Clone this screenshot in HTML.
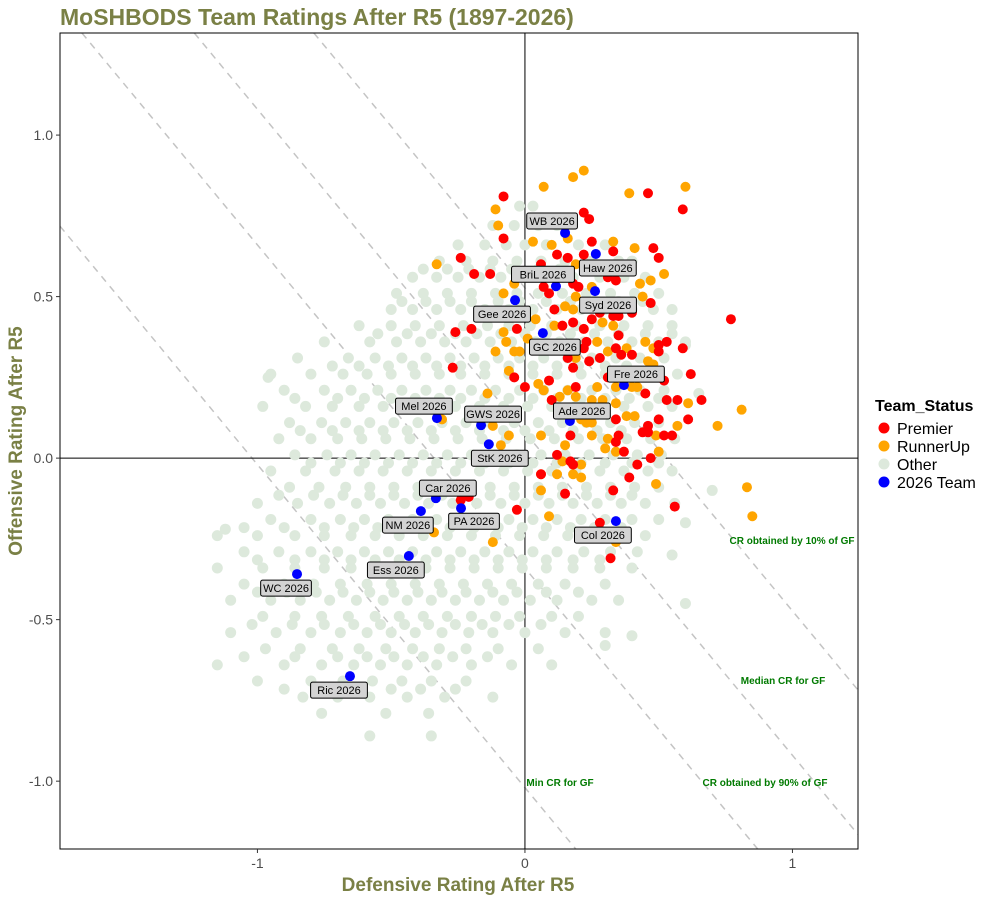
<!DOCTYPE html>
<html><head><meta charset="utf-8"><style>
html,body{margin:0;padding:0;background:#fff;overflow:hidden;width:1000px;height:900px;}
svg{display:block;}
svg text{font-family:"Liberation Sans",Arial,sans-serif;}
</style></head><body>
<svg id="chart" width="1000" height="900" viewBox="0 0 1000 900" xmlns="http://www.w3.org/2000/svg">
<defs><clipPath id="pc"><rect x="60" y="33" width="798" height="816"/></clipPath></defs>
<rect x="0" y="0" width="1000" height="900" fill="#fff"/>
<text x="60" y="25" font-size="23" font-weight="bold" fill="#7a8045">MoSHBODS Team Ratings After R5 (1897-2026)</text>
<g id="lines" clip-path="url(#pc)"></g>
<g id="pts" clip-path="url(#pc)"></g>
<g id="annot"></g>
<rect x="60" y="33" width="798" height="816" fill="none" stroke="#000" stroke-width="1"/>
<g id="axes"></g>
<text x="458" y="891" font-size="19" font-weight="bold" fill="#7a8045" text-anchor="middle">Defensive Rating After R5</text>
<text transform="translate(22,441) rotate(-90)" font-size="19" font-weight="bold" fill="#7a8045" text-anchor="middle">Offensive Rating After R5</text>
<g>
<text x="875" y="411" font-size="16" font-weight="bold" fill="#000">Team_Status</text>
<circle cx="884" cy="428" r="5.5" fill="#ff0000"/>
<text x="897" y="434" font-size="16">Premier</text>
<circle cx="884" cy="446" r="5.5" fill="#ffa500"/>
<text x="897" y="452" font-size="16">RunnerUp</text>
<circle cx="884" cy="464" r="5.5" fill="#dde9dc"/>
<text x="897" y="470" font-size="16">Other</text>
<circle cx="884" cy="482" r="5.5" fill="#0000ff"/>
<text x="897" y="488" font-size="16">2026 Team</text>
</g>
</svg>
<script>
const xDomain=[-1.738,1.245], yDomain=[-1.21,1.316];
const xTicks=[-1,0,1], xTickLabels=["-1","0","1"];
const yTicks=[1,0.5,0,-0.5,-1], yTickLabels=["1.0","0.5","0.0","-0.5","-1.0"];
const crValues=[-1.02,-0.34,0.08,0.527];
const crLabels=["Min CR for GF","CR obtained by 90% of GF","Median CR for GF","CR obtained by 10% of GF"];
const teamNames=["WB","Haw","BriL","Syd","Gee","GC","Fre","Ade","Mel","GWS","StK","Car","PA","NM","Ess","Col","WC","Ric"];
const teamDef=[0.15,0.265,0.116,0.262,-0.037,0.067,0.37,0.168,-0.329,-0.164,-0.135,-0.333,-0.239,-0.389,-0.434,0.34,-0.852,-0.654];
const teamOff=[0.697,0.632,0.532,0.517,0.489,0.387,0.226,0.115,0.124,0.102,0.043,-0.124,-0.155,-0.164,-0.303,-0.195,-0.359,-0.675];
const premier=[[-0.08,0.81],[0.46,0.82],[0.59,0.77],[0.22,0.76],[0.24,0.74],[-0.08,0.68],[0.25,0.67],[0.33,0.64],[0.48,0.65],[0.50,0.62],[-0.24,0.62],[0.12,0.63],[0.16,0.62],[0.22,0.63],[-0.19,0.57],[-0.13,0.57],[0.06,0.60],[0.31,0.56],[0.34,0.55],[0.07,0.53],[0.09,0.51],[0.18,0.54],[0.20,0.53],[0.47,0.48],[0.11,0.46],[0.14,0.41],[0.18,0.42],[0.22,0.40],[0.25,0.43],[0.28,0.45],[0.40,0.45],[0.33,0.44],[0.35,0.44],[0.35,0.38],[-0.26,0.39],[-0.20,0.40],[-0.03,0.40],[0.23,0.36],[0.22,0.34],[0.34,0.34],[0.50,0.35],[0.53,0.36],[0.59,0.34],[0.50,0.33],[0.16,0.31],[0.18,0.28],[0.24,0.30],[0.28,0.31],[0.36,0.32],[0.40,0.32],[-0.27,0.28],[-0.04,0.25],[0.00,0.22],[0.09,0.24],[0.19,0.22],[0.31,0.25],[0.52,0.24],[0.62,0.26],[0.45,0.20],[0.10,0.18],[0.53,0.18],[0.57,0.18],[0.34,0.12],[0.50,0.12],[0.61,0.12],[0.17,0.07],[0.35,0.07],[0.34,0.05],[0.46,0.10],[0.46,0.08],[0.44,0.08],[0.52,0.07],[0.55,0.07],[0.37,0.02],[0.12,0.01],[0.17,-0.01],[0.47,0.00],[0.42,-0.02],[0.39,-0.06],[0.77,0.43],[-0.21,-0.12],[-0.24,-0.13],[-0.03,-0.16],[0.06,-0.05],[0.15,-0.11],[0.18,-0.02],[0.33,-0.10],[0.32,-0.31],[0.28,-0.20],[0.56,-0.15],[0.66,0.18]];
const runnerUp=[[0.18,0.87],[0.22,0.89],[0.07,0.84],[0.39,0.82],[0.60,0.84],[-0.11,0.77],[-0.10,0.72],[0.03,0.67],[0.10,0.66],[0.16,0.68],[0.33,0.67],[0.41,0.65],[-0.33,0.60],[-0.04,0.54],[-0.08,0.51],[0.19,0.60],[0.52,0.57],[0.47,0.55],[0.43,0.54],[0.44,0.50],[0.25,0.53],[0.19,0.50],[0.15,0.47],[0.18,0.46],[0.11,0.41],[0.29,0.42],[0.33,0.41],[0.04,0.43],[-0.08,0.39],[-0.07,0.36],[-0.11,0.33],[-0.04,0.33],[-0.02,0.33],[0.01,0.37],[0.27,0.36],[0.38,0.34],[0.45,0.36],[0.48,0.34],[0.31,0.33],[0.19,0.31],[0.46,0.30],[0.48,0.29],[-0.06,0.27],[-0.14,0.20],[0.05,0.23],[0.07,0.21],[0.16,0.21],[0.27,0.22],[0.34,0.22],[0.40,0.22],[0.42,0.22],[0.13,0.19],[0.19,0.19],[0.25,0.18],[0.29,0.18],[0.34,0.17],[0.38,0.13],[0.41,0.13],[0.61,0.17],[0.21,0.12],[0.23,0.11],[0.25,0.11],[0.25,0.07],[-0.06,0.07],[-0.12,0.10],[-0.09,0.04],[0.06,0.07],[0.15,0.04],[0.30,0.03],[0.31,0.06],[0.34,0.02],[0.49,0.07],[0.57,0.10],[0.72,0.10],[0.50,0.02],[0.14,-0.01],[0.21,-0.02],[0.12,-0.05],[0.06,-0.05],[0.18,-0.05],[-0.02,0.00],[-0.31,0.12],[0.81,0.15],[0.83,-0.09],[0.85,-0.18],[0.06,-0.10],[0.21,-0.06],[-0.34,-0.23],[-0.12,-0.26],[0.49,-0.08],[0.09,-0.18],[0.34,-0.26]];
const otherRows=[
[0.78,-0.02,0.03],
[0.72,-0.12,-0.04,0.05,0.12],
[0.66,-0.25,-0.15,-0.07,0.0,0.08,0.2,0.3],
[0.61,-0.32,-0.22,-0.12,-0.03,0.06,0.15,0.25,0.35,0.4],
[0.56,-0.42,-0.33,-0.25,-0.17,-0.09,0.0,0.09,0.18,0.28,0.37,0.45],
[0.51,-0.48,-0.38,-0.29,-0.2,-0.11,-0.03,0.05,0.14,0.23,0.32,0.41,0.5],
[0.46,-0.5,-0.42,-0.33,-0.24,-0.15,-0.06,0.03,0.12,0.21,0.3,0.4,0.48,0.55],
[0.41,-0.62,-0.5,-0.41,-0.32,-0.23,-0.14,-0.06,0.02,0.1,0.19,0.28,0.37,0.46,0.55],
[0.36,-0.75,-0.58,-0.48,-0.39,-0.3,-0.22,-0.13,-0.05,0.04,0.13,0.22,0.31,0.4,0.5,0.6],
[0.31,-0.85,-0.66,-0.56,-0.46,-0.37,-0.28,-0.19,-0.1,-0.02,0.07,0.16,0.25,0.34,0.43,0.52],
[0.26,-0.95,-0.8,-0.68,-0.59,-0.5,-0.41,-0.32,-0.24,-0.15,-0.06,0.03,0.12,0.21,0.3,0.39,0.48,0.57],
[0.21,-0.9,-0.75,-0.65,-0.55,-0.46,-0.37,-0.28,-0.2,-0.11,-0.02,0.07,0.16,0.25,0.34,0.43,0.52],
[0.16,-0.98,-0.82,-0.72,-0.62,-0.53,-0.44,-0.35,-0.26,-0.17,-0.08,0.01,0.1,0.19,0.28,0.37,0.46,0.55],
[0.11,-0.88,-0.76,-0.67,-0.58,-0.49,-0.4,-0.31,-0.22,-0.13,-0.04,0.05,0.14,0.23,0.32,0.41,0.5],
[0.06,-0.92,-0.8,-0.7,-0.61,-0.52,-0.43,-0.34,-0.25,-0.16,-0.07,0.02,0.11,0.2,0.29,0.38,0.47,0.56],
[0.01,-0.86,-0.74,-0.65,-0.56,-0.47,-0.38,-0.29,-0.2,-0.11,-0.03,0.06,0.15,0.24,0.33,0.42,0.51],
[-0.04,-0.95,-0.82,-0.71,-0.62,-0.53,-0.44,-0.35,-0.26,-0.17,-0.08,0.01,0.1,0.19,0.28,0.37,0.46,0.55],
[-0.09,-0.88,-0.77,-0.67,-0.58,-0.49,-0.4,-0.31,-0.22,-0.13,-0.04,0.05,0.14,0.23,0.32,0.41,0.5],
[-0.14,-1.0,-0.85,-0.73,-0.63,-0.54,-0.45,-0.36,-0.27,-0.18,-0.09,0.0,0.09,0.18,0.27,0.36,0.45,0.56],
[-0.19,-0.95,-0.8,-0.69,-0.6,-0.51,-0.42,-0.33,-0.24,-0.15,-0.06,0.03,0.12,0.21,0.3,0.4,0.5],
[-0.24,-1.15,-1.0,-0.86,-0.75,-0.65,-0.56,-0.47,-0.38,-0.29,-0.2,-0.11,-0.02,0.07,0.16,0.25,0.35,0.45],
[-0.29,-1.05,-0.92,-0.8,-0.7,-0.6,-0.51,-0.42,-0.33,-0.24,-0.15,-0.06,0.03,0.12,0.22,0.32,0.42],
[-0.34,-1.15,-0.98,-0.86,-0.75,-0.65,-0.55,-0.46,-0.37,-0.28,-0.19,-0.1,-0.01,0.08,0.18,0.28,0.4],
[-0.39,-1.05,-0.9,-0.79,-0.69,-0.59,-0.5,-0.41,-0.32,-0.23,-0.14,-0.05,0.05,0.15,0.3],
[-0.44,-1.1,-0.95,-0.84,-0.73,-0.63,-0.53,-0.44,-0.35,-0.26,-0.17,-0.08,0.02,0.12,0.25,0.35],
[-0.49,-0.98,-0.86,-0.76,-0.66,-0.56,-0.47,-0.38,-0.29,-0.2,-0.11,-0.02,0.1,0.2],
[-0.54,-1.1,-0.93,-0.8,-0.69,-0.59,-0.5,-0.41,-0.31,-0.21,-0.12,0.0,0.15,0.3],
[-0.59,-0.97,-0.84,-0.72,-0.62,-0.52,-0.42,-0.32,-0.22,-0.1,0.05],
[-0.64,-1.15,-0.9,-0.76,-0.64,-0.54,-0.44,-0.33,-0.2,-0.05,0.1],
[-0.69,-1.0,-0.8,-0.68,-0.57,-0.46,-0.35,-0.22],
[-0.74,-0.83,-0.7,-0.58,-0.44,-0.3,-0.12],
[-0.79,-0.76,-0.52,-0.36],
[-0.86,-0.58,-0.35]];
const otherRowsB=[
[0.585,-0.38,-0.29,-0.21,-0.13,-0.05,0.05,0.13,0.23,0.32],
[0.485,-0.46,-0.37,-0.28,-0.2,-0.1,-0.02,0.08,0.17,0.26,0.35,0.44],
[0.385,-0.55,-0.44,-0.35,-0.26,-0.18,-0.09,0.0,0.08,0.17,0.26,0.35,0.45,0.55],
[0.285,-0.72,-0.62,-0.51,-0.42,-0.33,-0.24,-0.15,-0.06,0.03,0.12,0.2,0.3,0.38,0.47],
[0.185,-0.86,-0.7,-0.6,-0.5,-0.41,-0.32,-0.24,-0.15,-0.06,0.03,0.12,0.21,0.3,0.39,0.5],
[0.085,-0.84,-0.72,-0.62,-0.53,-0.44,-0.35,-0.26,-0.17,-0.08,0.0,0.09,0.18,0.27,0.36,0.45],
[-0.015,-0.8,-0.69,-0.6,-0.51,-0.42,-0.33,-0.24,-0.15,-0.06,0.03,0.12,0.21,0.3,0.4,0.5],
[-0.115,-0.92,-0.79,-0.68,-0.58,-0.49,-0.4,-0.31,-0.22,-0.13,-0.04,0.05,0.14,0.23,0.32,0.4],
[-0.215,-1.05,-0.9,-0.75,-0.64,-0.55,-0.46,-0.37,-0.28,-0.19,-0.1,-0.01,0.08,0.17,0.26,0.36],
[-0.315,-1.0,-0.86,-0.75,-0.65,-0.56,-0.47,-0.37,-0.28,-0.19,-0.1,-0.01,0.08,0.18,0.28],
[-0.415,-1.0,-0.89,-0.78,-0.68,-0.58,-0.49,-0.4,-0.31,-0.22,-0.12,-0.03,0.08,0.2],
[-0.515,-1.02,-0.87,-0.75,-0.64,-0.54,-0.45,-0.36,-0.26,-0.16,-0.06,0.06],
[-0.615,-1.05,-0.86,-0.7,-0.59,-0.49,-0.38,-0.27,-0.14],
[-0.715,-0.9,-0.74,-0.62,-0.5,-0.39,-0.26]];
const otherExtra=[[0.6,0.35],[0.65,0.2],[0.7,-0.1],[0.6,-0.2],[0.55,-0.3],[0.6,-0.45],[0.3,-0.58],[0.4,-0.55],[-0.96,0.25],[-1.12,-0.22]];

const NS="http://www.w3.org/2000/svg";
const X=v=>60+(v-xDomain[0])/(xDomain[1]-xDomain[0])*798;
const Y=v=>849-(v-yDomain[0])/(yDomain[1]-yDomain[0])*816;
function mk(tag,attrs,parent){const e=document.createElementNS(NS,tag);for(const k in attrs)e.setAttribute(k,attrs[k]);parent.appendChild(e);return e;}
const lines=document.getElementById('lines'),pts=document.getElementById('pts'),annot=document.getElementById('annot'),axes=document.getElementById('axes');
crValues.forEach((c,i)=>{
  // clip line x+y=c to the panel domain
  const xa=Math.max(xDomain[0],c-yDomain[1]);
  const xb=Math.min(xDomain[1],c-yDomain[0]);
  if(xb<=xa)return;
  const l=mk('line',{x1:X(xa),y1:Y(c-xa),x2:X(xb),y2:Y(c-xb),stroke:'#c4c4c4','stroke-width':1.5,'stroke-dasharray':'7,6'},lines);
  
  
});
const zx=mk('line',{x1:X(0),y1:33,x2:X(0),y2:849,stroke:'#000','stroke-width':1},lines);


const zy=mk('line',{x1:60,y1:Y(0),x2:858,y2:Y(0),stroke:'#000','stroke-width':1},lines);


function drawOther(x,y){
  const c=mk('circle',{cx:X(x),cy:Y(y),r:5.5,fill:'#dde9dc'},pts);
  
  
}
otherRows.forEach(r=>{for(let j=1;j<r.length;j++)drawOther(r[j],r[0]);});
otherRowsB.forEach(r=>{for(let j=1;j<r.length;j++)drawOther(r[j],r[0]);});
otherExtra.forEach(p=>drawOther(p[0],p[1]));
runnerUp.forEach(p=>{
  const c=mk('circle',{cx:X(p[0]),cy:Y(p[1]),r:5,fill:'#ffa500'},pts);
  
  
});
premier.forEach(p=>{
  const c=mk('circle',{cx:X(p[0]),cy:Y(p[1]),r:5,fill:'#ff0000'},pts);
  
  
});
const lblOff={WB:[-13,-12],Haw:[12,14],BriL:[-13,-12],Syd:[13,14],Gee:[-13,14],GC:[12,14],Fre:[12,-11],Ade:[12,-10],Mel:[-13,-12],GWS:[12,-11],StK:[11,14],Car:[12,-10],PA:[13,13],NM:[-13,14],Ess:[-13,14],Col:[-13,14],WC:[-11,14],Ric:[-11,14]};
teamNames.forEach((n,i)=>{
  const c=mk('circle',{cx:X(teamDef[i]),cy:Y(teamOff[i]),r:5,fill:'#0000ff'},pts);
  
  
});
teamNames.forEach((n,i)=>{
  const cx=X(teamDef[i]),cy=Y(teamOff[i]);
  const o=lblOff[n]||[0,-12];
  const txt=n+' 2026';
  const w=txt.length*6.1+8;
  const lx=cx+o[0],ly=cy+o[1];
  const g=mk('g',{},annot);
  
  
  mk('rect',{x:lx-w/2,y:ly-8,width:w,height:16,rx:2,fill:'#d3d3d3',stroke:'#000','stroke-width':1},g);
  const t=mk('text',{x:lx,y:ly+4,'font-size':11,'text-anchor':'middle',fill:'#000'},g);
  t.textContent=txt;
});
const crPos=[[560,786],[765,786],[783,684],[792,544]];
crLabels.forEach((s,i)=>{
  const t=mk('text',{x:crPos[i][0],y:crPos[i][1],'font-size':10,'font-weight':'bold','text-anchor':'middle',fill:'#007a00'},annot);
  
  
  t.textContent=s;
});
xTicks.forEach((v,i)=>{
  mk('line',{x1:X(v),y1:849,x2:X(v),y2:853,stroke:'#333'},axes);
  const t=mk('text',{x:X(v),y:868,'font-size':14,'text-anchor':'middle',fill:'#4d4d4d'},axes);
  
  
  t.textContent=xTickLabels[i];
});
yTicks.forEach((v,i)=>{
  mk('line',{x1:56,y1:Y(v),x2:60,y2:Y(v),stroke:'#333'},axes);
  const t=mk('text',{x:53,y:Y(v)+5,'font-size':14,'text-anchor':'end',fill:'#4d4d4d'},axes);
  
  
  t.textContent=yTickLabels[i];
});
</script>
</body></html>
